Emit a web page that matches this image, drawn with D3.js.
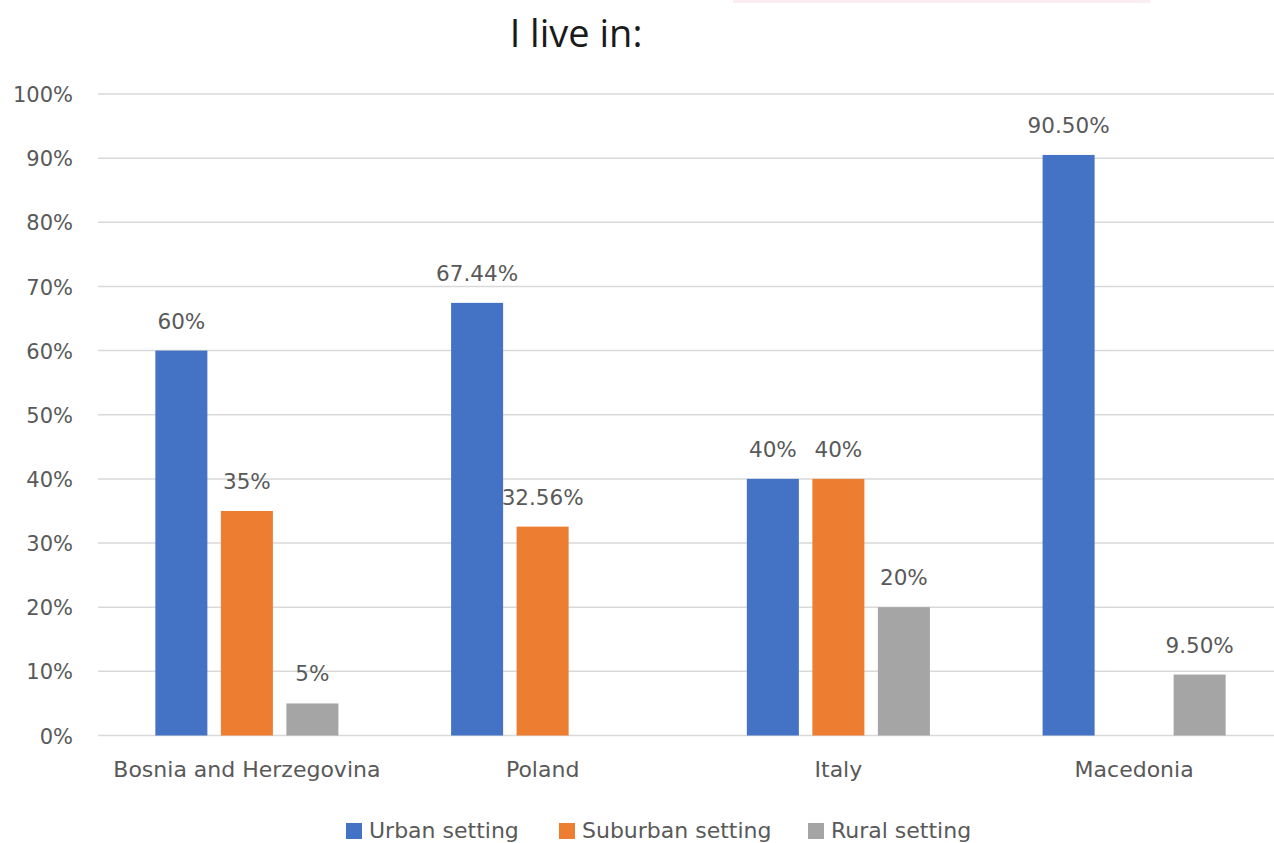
<!DOCTYPE html>
<html>
<head>
<meta charset="utf-8">
<script src="https://cdn.jsdelivr.net/npm/d3@7"></script>
<style>
  html, body { margin: 0; padding: 0; background: #fff; }
  svg { display: block; }
</style>
</head>
<body>
<svg id="chart" width="1274" height="843"></svg>
<script>
const title = "I live in:";
const categories = ["Bosnia and Herzegovina", "Poland", "Italy", "Macedonia"];
const seriesNames = ["Urban setting", "Suburban setting", "Rural setting"];
const urban = [60, 67.44, 40, 90.5];
const suburban = [35, 32.56, 40, null];
const rural = [5, null, 20, 9.5];
const urbanLabels = ["60%", "67.44%", "40%", "90.50%"];
const suburbanLabels = ["35%", "32.56%", "40%", null];
const ruralLabels = ["5%", null, "20%", "9.50%"];
const yTicks = [0, 10, 20, 30, 40, 50, 60, 70, 80, 90, 100];
const colors = ["#4472C4", "#ED7D31", "#A5A5A5"];

const seriesValues = [urban, suburban, rural];
const seriesLabels = [urbanLabels, suburbanLabels, ruralLabels];

const svg = d3.select("#chart");
const W = 1274, H = 843;
const FONT = "'DejaVu Sans', sans-serif";
const TEXT = "#595959";

// faint artifact strip at top of reference
svg.append("rect").attr("x", 733).attr("y", 0).attr("width", 417).attr("height", 3)
  .attr("fill", "#fbeef2");

const y = d3.scaleLinear().domain([0, 100]).range([735.5, 94]);
const x0 = d3.scaleBand().domain(categories).range([99, 1282]).padding(0);
const x1 = d3.scaleBand().domain(seriesNames).range([0, x0.bandwidth()])
  .paddingInner(0.206).paddingOuter(0.86);

// title
svg.append("text").attr("x", 576).attr("y", 47)
  .attr("text-anchor", "middle")
  .attr("font-family", "'Open Sans', sans-serif")
  .attr("font-size", 38).attr("fill", "#1a1a1a")
  .text(title);

// gridlines
const grid = svg.append("g");
grid.selectAll("line").data(yTicks).join("line")
  .attr("x1", 98).attr("x2", W)
  .attr("y1", d => y(d)).attr("y2", d => y(d))
  .attr("stroke", "#d9d9d9").attr("stroke-width", 1.5);

// y axis labels
const yAxis = d3.axisLeft(y).tickValues(yTicks).tickFormat(d => d + "%").tickSize(0).tickPadding(0);
const yg = svg.append("g").attr("transform", "translate(73,0)").call(yAxis);
yg.select(".domain").remove();
yg.selectAll("text").attr("font-family", FONT).attr("font-size", 21).attr("fill", TEXT)
  .attr("dy", "0.36em");

// bars
seriesNames.forEach((s, si) => {
  const data = categories.map((c, ci) => ({c, v: seriesValues[si][ci], l: seriesLabels[si][ci]}))
    .filter(d => d.v != null);
  svg.append("g").selectAll("rect").data(data).join("rect")
    .attr("x", d => x0(d.c) + x1(s))
    .attr("y", d => y(d.v))
    .attr("width", x1.bandwidth())
    .attr("height", d => y(0) - y(d.v))
    .attr("fill", colors[si]);
  svg.append("g").selectAll("text").data(data).join("text")
    .attr("x", d => x0(d.c) + x1(s) + x1.bandwidth() / 2)
    .attr("y", d => y(d.v) - 22)
    .attr("text-anchor", "middle")
    .attr("font-family", FONT).attr("font-size", 21.5).attr("fill", TEXT)
    .text(d => d.l);
});

// x axis labels
const xAxis = d3.axisBottom(x0).tickSize(0).tickPadding(0);
const xg = svg.append("g").attr("transform", "translate(0,777)").call(xAxis);
xg.select(".domain").remove();
xg.selectAll("text").attr("font-family", FONT).attr("font-size", 22).attr("fill", TEXT)
  .attr("dy", "0");

// legend
const legendX = [346, 559, 808];
const lg = svg.append("g");
seriesNames.forEach((s, i) => {
  lg.append("rect").attr("x", legendX[i]).attr("y", 823).attr("width", 16).attr("height", 16)
    .attr("fill", colors[i]);
  lg.append("text").attr("x", legendX[i] + 23).attr("y", 838)
    .attr("font-family", FONT).attr("font-size", 22).attr("fill", TEXT)
    .text(s);
});
</script>
</body>
</html>
